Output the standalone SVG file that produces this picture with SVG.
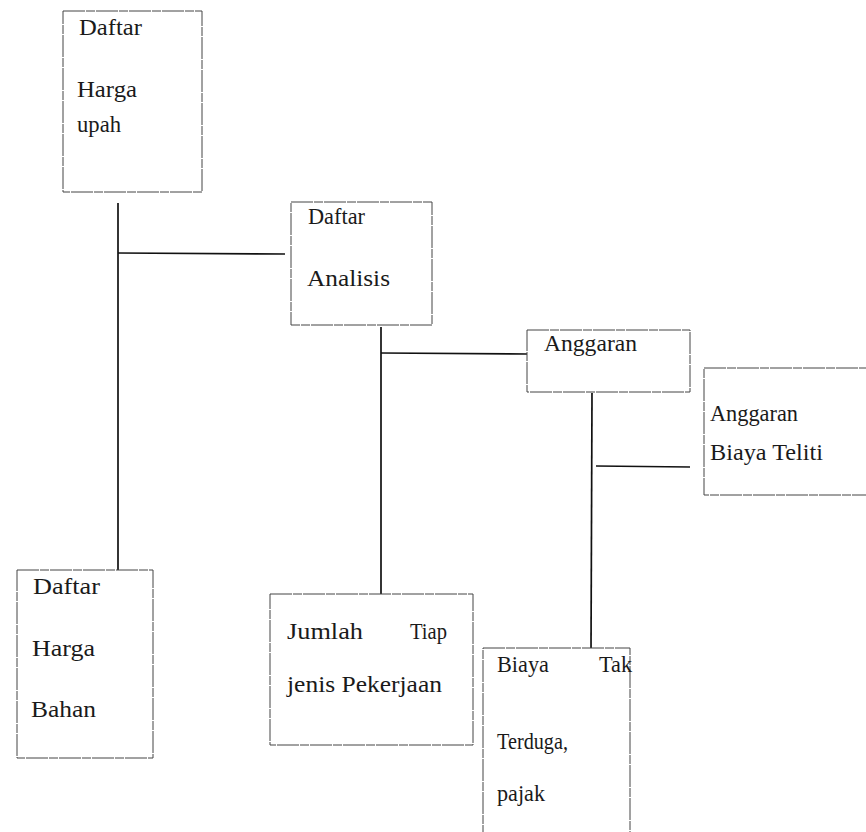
<svg xmlns="http://www.w3.org/2000/svg" width="866" height="832" viewBox="0 0 866 832">
<style>
.box{fill:#fff;stroke:#444;stroke-width:1;stroke-dasharray:22 1 9 1}
.t{font-family:"Liberation Serif",serif;font-size:23px;fill:#1a1a1a}
.c{stroke:#111;stroke-width:1.7;fill:none}
</style>
<rect width="866" height="832" fill="#fff"/>
<g id="connectors">
<line class="c" x1="118" y1="203" x2="118" y2="570"/>
<line class="c" x1="118" y1="253" x2="285" y2="254"/>
<line class="c" x1="381" y1="327" x2="381" y2="595"/>
<line class="c" x1="381" y1="353" x2="527" y2="354"/>
<line class="c" x1="592" y1="393" x2="591" y2="652"/>
<line class="c" x1="596" y1="466" x2="690" y2="467"/>
</g>
<g id="n1">
<rect class="box" x="63" y="11" width="139" height="181"/>
<text class="t" x="79" y="35" textLength="63" lengthAdjust="spacingAndGlyphs">Daftar</text>
<text class="t" x="77" y="97" textLength="60" lengthAdjust="spacingAndGlyphs">Harga</text>
<text class="t" x="77" y="132" textLength="44" lengthAdjust="spacingAndGlyphs">upah</text>
</g>
<g id="n2">
<rect class="box" x="291" y="202" width="141" height="123"/>
<text class="t" x="308" y="224" textLength="57" lengthAdjust="spacingAndGlyphs">Daftar</text>
<text class="t" x="307" y="286" textLength="83" lengthAdjust="spacingAndGlyphs">Analisis</text>
</g>
<g id="n3">
<rect class="box" x="527" y="330" width="163" height="62"/>
<text class="t" x="544" y="351" textLength="93" lengthAdjust="spacingAndGlyphs">Anggaran</text>
</g>
<g id="n4">
<rect class="box" x="704" y="368" width="170" height="127"/>
<text class="t" x="710" y="421" textLength="88" lengthAdjust="spacingAndGlyphs">Anggaran</text>
<text class="t" x="710" y="460" textLength="113" lengthAdjust="spacingAndGlyphs">Biaya Teliti</text>
</g>
<g id="n5">
<rect class="box" x="17" y="570" width="136" height="188"/>
<text class="t" x="33" y="594" textLength="67" lengthAdjust="spacingAndGlyphs">Daftar</text>
<text class="t" x="32" y="656" textLength="63" lengthAdjust="spacingAndGlyphs">Harga</text>
<text class="t" x="31" y="717" textLength="65" lengthAdjust="spacingAndGlyphs">Bahan</text>
</g>
<g id="n6">
<rect class="box" x="270" y="594" width="203" height="151"/>
<text class="t" x="287" y="639" textLength="76" lengthAdjust="spacingAndGlyphs">Jumlah</text>
<text class="t" x="410" y="639" textLength="37" lengthAdjust="spacingAndGlyphs">Tiap</text>
<text class="t" x="287" y="692" textLength="155" lengthAdjust="spacingAndGlyphs">jenis Pekerjaan</text>
</g>
<g id="n7">
<rect class="box" x="483" y="648" width="147" height="200"/>
<text class="t" x="497" y="672" textLength="52" lengthAdjust="spacingAndGlyphs">Biaya</text>
<text class="t" x="599" y="672" textLength="33" lengthAdjust="spacingAndGlyphs">Tak</text>
<text class="t" x="497" y="749" textLength="71" lengthAdjust="spacingAndGlyphs">Terduga,</text>
<text class="t" x="497" y="801" textLength="48" lengthAdjust="spacingAndGlyphs">pajak</text>
</g>
</svg>
